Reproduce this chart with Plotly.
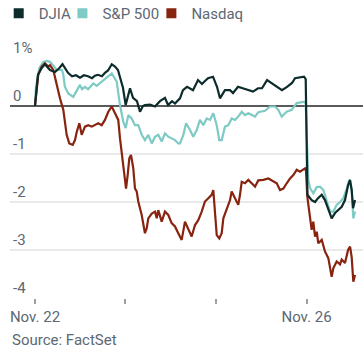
import plotly.graph_objects as go

# time axis: trading days since Nov. 22 open (0 = Nov. 22, 1 = Nov. 23, 2 = Nov. 24, 3 = Nov. 26)
djia_t = [0, 0.019, 0.033, 0.074, 0.110, 0.166, 0.221, 0.265, 0.304, 0.365, 0.409, 0.453, 0.497,
          0.541, 0.586, 0.630, 0.663, 0.696, 0.740, 0.773, 0.807, 0.848, 0.884, 0.917, 0.950, 0.972,
          1.002, 1.028, 1.050, 1.083, 1.127, 1.160, 1.193, 1.215, 1.271, 1.326, 1.381, 1.436, 1.470,
          1.514, 1.547, 1.602, 1.635, 1.680, 1.713, 1.746, 1.801, 1.845, 1.878, 1.912, 1.967, 2.011,
          2.044, 2.099, 2.155, 2.188, 2.243, 2.298, 2.354, 2.409, 2.464, 2.508, 2.564, 2.619, 2.674,
          2.729, 2.785, 2.840, 2.873, 2.928, 2.972, 2.991, 3.010, 3.057, 3.094, 3.127, 3.168, 3.204,
          3.238, 3.278, 3.315, 3.348, 3.389, 3.425, 3.459, 3.481, 3.499, 3.514, 3.536]
djia_v = [0, 0.33, 0.65, 0.79, 0.87, 0.75, 0.71, 0.78, 0.87, 0.69, 0.62, 0.64, 0.59,
          0.64, 0.62, 0.58, 0.63, 0.65, 0.62, 0.69, 0.74, 0.87, 0.82, 0.75, 0.55, 0.38,
          0.02, 0.23, 0.37, 0.17, 0.10, -0.12, 0.0, 0.02, 0.03, -0.01, 0.10, 0.17, 0.02,
          0.10, 0.05, 0.16, 0.33, 0.40, 0.37, 0.33, 0.54, 0.46, 0.52, 0.58, 0.61, 0.40,
          0.16, 0.33, 0.33, 0.27, 0.40, 0.37, 0.33, 0.30, 0.37, 0.37, 0.54, 0.47, 0.40,
          0.33, 0.40, 0.48, 0.58, 0.60, 0.61, 0.56, -1.85, -1.96, -2.0, -1.92, -1.85, -1.96,
          -2.13, -2.34, -2.23, -2.17, -2.10, -1.96, -1.65, -1.54, -1.75, -2.13, -1.96]

spx_t = [0, 0.011, 0.048, 0.092, 0.129, 0.166, 0.199, 0.240, 0.298, 0.313, 0.331, 0.368, 0.423,
         0.461, 0.497, 0.519, 0.552, 0.586, 0.644, 0.682, 0.737, 0.792, 0.848, 0.903, 0.939, 0.976,
         1.002, 1.031, 1.068, 1.105, 1.141, 1.179, 1.215, 1.252, 1.290, 1.326, 1.362, 1.400, 1.436,
         1.473, 1.510, 1.547, 1.583, 1.602, 1.639, 1.669, 1.713, 1.749, 1.787, 1.823, 1.860, 1.897,
         1.934, 1.970, 2.008, 2.036, 2.063, 2.099, 2.136, 2.173, 2.210, 2.246, 2.284, 2.320, 2.357,
         2.394, 2.431, 2.467, 2.541, 2.597, 2.652, 2.688, 2.726, 2.781, 2.836, 2.892, 2.947, 2.976,
         2.991, 3.020, 3.039, 3.075, 3.113, 3.149, 3.186, 3.223, 3.260, 3.296, 3.333, 3.370, 3.407,
         3.444, 3.473, 3.499, 3.517, 3.536]
spx_v = [0, 0.40, 0.79, 0.92, 0.94, 0.92, 0.85, 0.75, 0.75, 0.65, 0.40, 0.26, 0.19,
         0.33, 0.44, 0.35, 0.40, 0.35, 0.47, 0.42, 0.51, 0.58, 0.68, 0.51, 0.02, -0.33,
         -0.46, -0.19, -0.26, -0.40, -0.40, -0.60, -0.71, -0.60, -0.78, -0.64, -0.60, -0.74, -0.57,
         -0.64, -0.67, -0.71, -0.78, -0.78, -0.60, -0.36, -0.50, -0.64, -0.50, -0.29, -0.40, -0.26,
         -0.29, -0.15, -0.40, -0.71, -0.71, -0.43, -0.40, -0.26, -0.29, -0.22, -0.12, -0.19, -0.15,
         -0.19, -0.22, -0.13, -0.10, -0.01, -0.01, -0.08, -0.22, -0.12, -0.08, 0.06, 0.09, 0.09,
         0.04, -1.54, -1.71, -1.82, -1.69, -1.68, -1.75, -1.96, -2.20, -2.20, -2.06, -2.00, -1.92,
         -1.72, -1.54, -1.75, -2.34, -2.20]

ndx_t = [0, 0.036, 0.074, 0.110, 0.147, 0.166, 0.202, 0.240, 0.276, 0.313, 0.331, 0.350, 0.379,
         0.417, 0.442, 0.461, 0.490, 0.516, 0.552, 0.589, 0.627, 0.663, 0.699, 0.737, 0.773, 0.810,
         0.848, 0.884, 0.920, 0.939, 0.958, 0.976, 0.994, 1.006, 1.024, 1.042, 1.061, 1.086, 1.105,
         1.124, 1.141, 1.160, 1.179, 1.215, 1.234, 1.252, 1.290, 1.326, 1.345, 1.362, 1.400, 1.436,
         1.473, 1.510, 1.547, 1.583, 1.621, 1.657, 1.694, 1.731, 1.768, 1.804, 1.842, 1.878, 1.915,
         1.952, 1.970, 1.989, 2.008, 2.036, 2.063, 2.081, 2.118, 2.155, 2.173, 2.210, 2.246, 2.265,
         2.284, 2.320, 2.357, 2.394, 2.431, 2.467, 2.523, 2.578, 2.633, 2.671, 2.707, 2.744, 2.781,
         2.818, 2.854, 2.892, 2.928, 2.965, 2.983, 2.994, 3.009, 3.028, 3.057, 3.075, 3.094, 3.113,
         3.130, 3.168, 3.204, 3.241, 3.278, 3.296, 3.333, 3.370, 3.389, 3.425, 3.459, 3.481, 3.499,
         3.517, 3.536]
ndx_v = [0, 0.65, 0.82, 0.89, 0.82, 0.85, 0.75, 0.44, 0.16, -0.08, -0.33, -0.60, -0.78,
         -0.81, -0.71, -0.54, -0.36, -0.60, -0.43, -0.40, -0.43, -0.40, -0.36, -0.40, -0.29, -0.12,
         -0.01, -0.15, -0.29, -0.67, -0.95, -1.23, -1.47, -1.72, -1.44, -1.09, -1.02, -1.30, -1.72,
         -1.78, -1.99, -2.13, -2.27, -2.65, -2.55, -2.34, -2.24, -2.20, -2.34, -2.17, -2.41, -2.20,
         -2.27, -2.44, -2.51, -2.65, -2.79, -2.41, -2.58, -2.72, -2.48, -2.38, -2.20, -1.99, -1.92,
         -1.85, -1.75, -2.20, -2.69, -2.76, -2.65, -2.34, -2.13, -1.96, -1.78, -1.92, -2.06, -1.85,
         -1.58, -1.61, -1.54, -1.61, -1.68, -1.55, -1.54, -1.51, -1.58, -1.61, -1.75, -1.72, -1.61,
         -1.51, -1.44, -1.33, -1.37, -1.33, -1.30, -1.35, -1.89, -2.17, -2.58, -2.41, -2.72, -2.62,
         -2.86, -2.79, -3.03, -3.17, -3.56, -3.38, -3.24, -3.30, -3.20, -3.27, -3.00, -2.93, -3.15,
         -3.66, -3.52]

series_names = ["DJIA", "S&P 500", "Nasdaq"]
series_colors = ["#0c2b2b", "#7ecac4", "#88230f"]

x_tickvals = [0, 1, 2, 3]
x_ticktext = ["Nov. 22", "", "", "Nov. 26"]
y_tickvals = [1, 0, -1, -2, -3, -4]
y_ticktext = ["1%", "0", "-1", "-2", "-3", "-4"]

FONT = "Roboto, Arial, sans-serif"
GRAY = "#5d6872"

fig = go.Figure()
data = {"DJIA": (djia_t, djia_v), "S&P 500": (spx_t, spx_v), "Nasdaq": (ndx_t, ndx_v)}
# draw order: S&P, Nasdaq, DJIA on top
for name in ["S&P 500", "Nasdaq", "DJIA"]:
    t, v = data[name]
    c = series_colors[series_names.index(name)]
    fig.add_trace(go.Scatter(x=t, y=v, mode="lines", name=name, showlegend=False,
                             line=dict(color=c, width=2.2), hoverinfo="skip"))

# one legend per series so each entry can sit where the reference has it
legend_ids = ["legend", "legend2", "legend3"]
legend_x = [-0.032, 0.1485, 0.4005]
for i, name in enumerate(series_names):
    fig.add_trace(go.Scatter(x=[None], y=[None], mode="markers", name=name,
                             legend=legend_ids[i],
                             marker=dict(symbol="square", size=10, color=series_colors[i])))

legend_common = dict(orientation="h", xanchor="left", y=1.2545, yanchor="top",
                     font=dict(size=15, color=GRAY), itemwidth=30,
                     bgcolor="rgba(0,0,0,0)")

fig.update_layout(
    width=363, height=355,
    margin=dict(l=10, r=0, t=58, b=57, autoexpand=False),
    paper_bgcolor="white", plot_bgcolor="white",
    font=dict(family=FONT, size=15, color=GRAY),
    legend=dict(x=legend_x[0], **legend_common),
    legend2=dict(x=legend_x[1], **legend_common),
    legend3=dict(x=legend_x[2], **legend_common),
    xaxis=dict(range=[-0.276, 3.624], tickvals=x_tickvals, ticktext=x_ticktext,
               showgrid=False, zeroline=False, showline=False,
               ticks="outside", ticklen=5, tickwidth=2, tickcolor="#9aa1a8",
               tickfont=dict(size=15, color=GRAY)),
    yaxis=dict(range=[-4, 1], tickvals=y_tickvals, ticktext=y_ticktext,
               showgrid=True, gridcolor="#e9e9e9", gridwidth=2,
               zeroline=True, zerolinecolor="#5a5a5a", zerolinewidth=1.5,
               ticklabelposition="inside top", ticklabeloverflow="allow",
               ticks="", showline=False, tickfont=dict(size=15, color=GRAY)),
    annotations=[dict(text="Source: FactSet", xref="paper", yref="paper", x=0, y=-0.175,
                      xanchor="left", yanchor="middle", showarrow=False,
                      font=dict(size=15, color=GRAY))],
    showlegend=True,
)

fig.write_html("out.html", config={"displayModeBar": False},
               post_script="document.body.style.margin='0';document.body.style.overflow='hidden';")
